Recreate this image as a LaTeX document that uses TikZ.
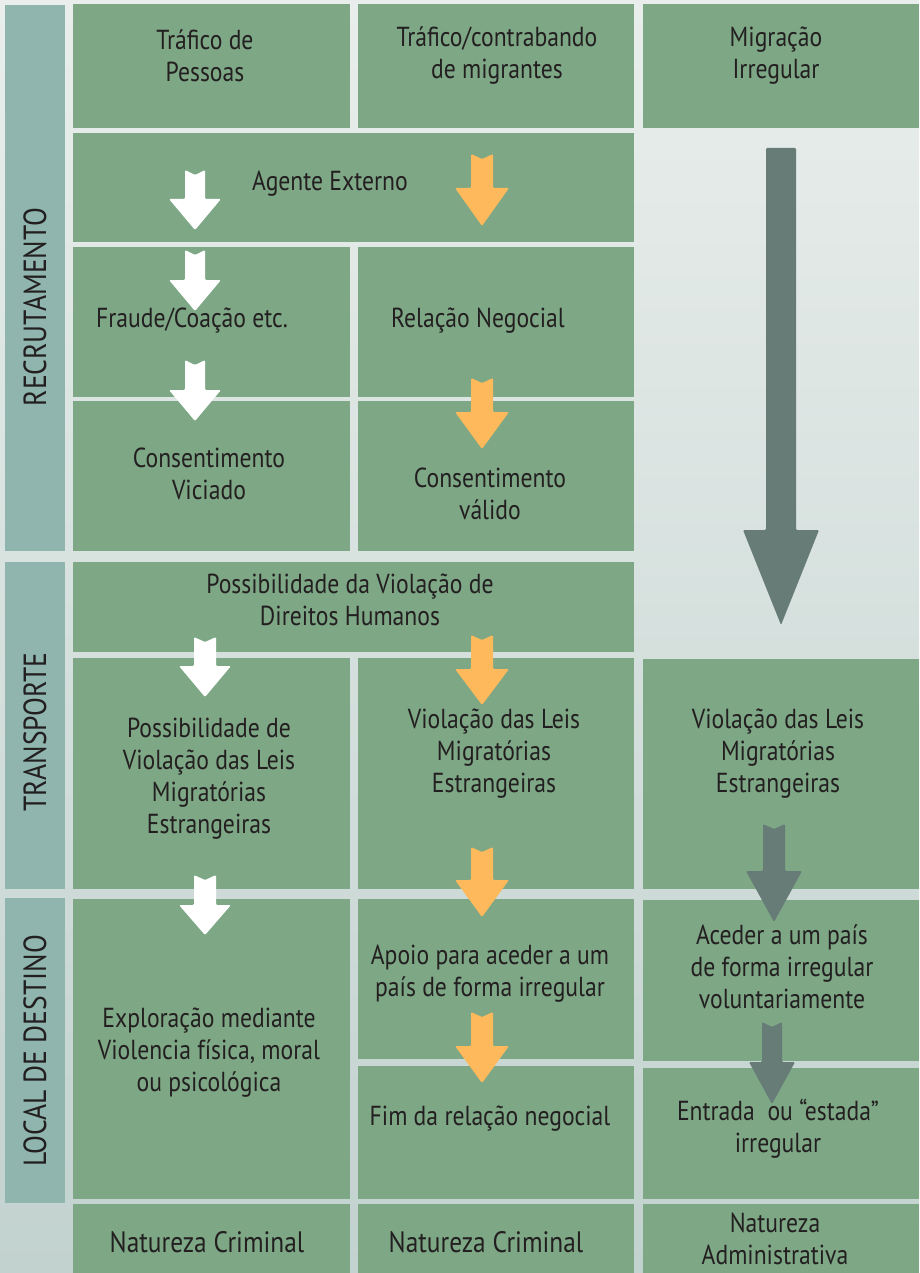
\documentclass[tikz,border=0pt]{standalone}
\usepackage{fontspec}
\setmainfont{PT Sans}[FakeStretch=0.86]
\definecolor{cellg}{HTML}{7DA785}
\definecolor{bandc}{HTML}{8FB5AE}
\definecolor{orng}{HTML}{FDB95B}
\definecolor{garr}{HTML}{677B77}
\definecolor{txt}{HTML}{231F20}
\definecolor{bgtop}{HTML}{E9EEEC}
\definecolor{bgbot}{HTML}{C2D2CF}
% color, cx, top, headstart, tip, halfshaft, halfhead, notch
\newcommand{\blkarrow}[8]{%
  \fill[#1, rounded corners=1.2pt] (#2-#6,#3) -- (#2,#3+#8) -- (#2+#6,#3) -- (#2+#6,#4) -- (#2+#7,#4) -- (#2,#5) -- (#2-#7,#4) -- (#2-#6,#4) -- cycle;}
\tikzset{
  lbl/.style={align=center, text=txt, inner sep=0pt, font=\fontsize{27.5}{32}\selectfont},
  bandlbl/.style={rotate=90, text=txt, inner sep=0pt, font=\fontsize{32}{34}\selectfont},
}
\begin{document}
\begin{tikzpicture}[x=1pt,y=-1pt]
\useasboundingbox (0,0) rectangle (919,1273);
\shade[top color=bgtop, bottom color=bgbot] (0,0) rectangle (919,1273);
% bands
\fill[bandc] (5,5) rectangle (65,551);
\fill[bandc] (5,562) rectangle (65,889);
\fill[bandc] (5,898) rectangle (65,1203);
% cells
\fill[cellg] (73,4) rectangle (350,128);
\fill[cellg] (358,4) rectangle (634,128);
\fill[cellg] (643,4) rectangle (919,128);
\fill[cellg] (73,133) rectangle (634,242);
\fill[cellg] (73,247) rectangle (350,397);
\fill[cellg] (358,247) rectangle (634,397);
\fill[cellg] (73,401) rectangle (350,551);
\fill[cellg] (358,401) rectangle (634,551);
\fill[cellg] (73,562) rectangle (634,652);
\fill[cellg] (73,658) rectangle (350,889);
\fill[cellg] (358,658) rectangle (634,889);
\fill[cellg] (643,659) rectangle (919,889);
\fill[cellg] (73,899) rectangle (350,1199);
\fill[cellg] (358,899) rectangle (634,1059);
\fill[cellg] (358,1066) rectangle (634,1199);
\fill[cellg] (643,900) rectangle (919,1061);
\fill[cellg] (643,1068) rectangle (919,1199);
\fill[cellg] (73,1204) rectangle (350,1273);
\fill[cellg] (358,1204) rectangle (634,1273);
\fill[cellg] (643,1204) rectangle (919,1273);
% band labels
\node[bandlbl] (recr) at (35,307) {RECRUTAMENTO};
\node[bandlbl] (transp) at (35,732) {TRANSPORTE};
\node[bandlbl] (dest) at (35,1051) {LOCAL DE DESTINO};
% arrows: white
\blkarrow{white}{195}{170}{199}{230}{10}{26}{5}
\blkarrow{white}{195}{250}{280}{311}{10}{26}{5}
\blkarrow{white}{195}{360}{390}{421}{10}{26}{5}
\blkarrow{white}{205}{637}{666}{697}{11}{26}{5}
\blkarrow{white}{205}{875}{905}{935}{11}{26}{5}
% orange
\blkarrow{orng}{482}{154}{188}{226}{11}{27}{5}
\blkarrow{orng}{482}{378}{412}{449}{11}{27}{5}
\blkarrow{orng}{482}{635}{669}{705}{11}{27}{5}
\blkarrow{orng}{482}{847}{880}{917}{11}{27}{5}
\blkarrow{orng}{482}{1012}{1046}{1083}{11}{27}{5}
% gray
\blkarrow{garr}{781}{148}{530}{625}{15}{38}{0}
\blkarrow{garr}{774}{824}{871}{922}{11}{28}{5}
\blkarrow{garr}{772}{1022}{1062}{1104}{10}{23}{5}
% texts
\node[lbl] (h1) at (205,56) {Tráfico de\\Pessoas};
\node[lbl] (h2) at (497,56) {Tráfico/contrabando\\de migrantes};
\node[lbl] (h3) at (776,56) {Migração\\Irregular};
\node[lbl] (agente) at (330,184) {Agente Externo};
\node[lbl] (fraude) at (192,321) {Fraude/Coação etc.};
\node[lbl] (relacao) at (478,321) {Relação Negocial};
\node[lbl] (viciado) at (209,474) {Consentimento\\Viciado};
\node[lbl] (valido) at (490,494) {Consentimento\\válido};
\node[lbl] (possdh) at (350,600) {Possibilidade da Violação de\\Direitos Humanos};
\node[lbl] (possleis) at (209,779) {Possibilidade de\\Violação das Leis\\Migratórias\\Estrangeiras};
\node[lbl] (leis2) at (494,754) {Violação das Leis\\Migratórias\\Estrangeiras};
\node[lbl] (leis3) at (778,754) {Violação das Leis\\Migratórias\\Estrangeiras};
\node[lbl] (apoio) at (490,974) {Apoio para aceder a um\\país de forma irregular};
\node[lbl] (aceder) at (782,967) {Aceder a um país\\de forma irregular\\voluntariamente};
\node[lbl] (explor) at (209,1053) {Exploração mediante\\Violencia física, moral\\ou psicológica};
\node[lbl] (fim) at (490,1119) {Fim da relação negocial};
\node[lbl] (entrada) at (778,1129) {Entrada\ \ ou “estada”\\irregular};
\node[lbl, font=\fontsize{29.5}{33}\selectfont] (nat1) at (207,1242) {Natureza Criminal};
\node[lbl, font=\fontsize{29.5}{33}\selectfont] (nat2) at (486,1242) {Natureza Criminal};
\node[lbl] (nat3) at (775,1239) {Natureza\\Administrativa};
\end{tikzpicture}
\end{document}
